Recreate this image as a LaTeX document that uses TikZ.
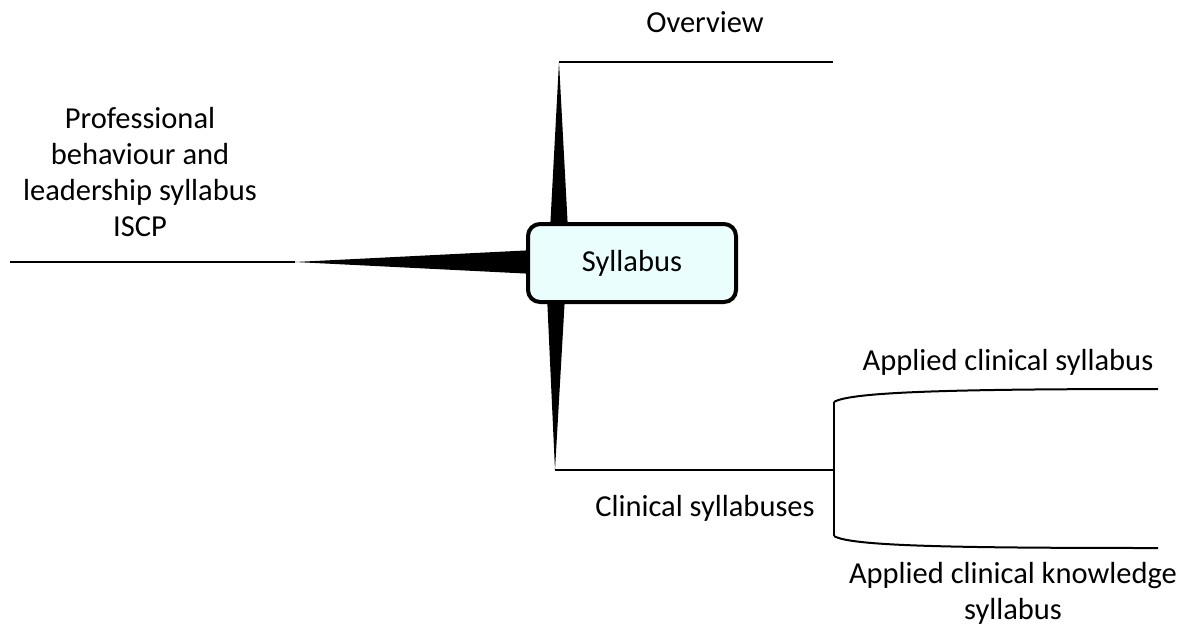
\documentclass[tikz,border=0pt]{standalone}
\usepackage{fontspec}
\setmainfont{Carlito}
\definecolor{boxfill}{RGB}{234,254,254}
\begin{document}
\begin{tikzpicture}[x=1pt,y=-1pt,
  lbl/.style={font=\fontsize{30.5}{36}\selectfont, align=center, inner sep=0pt},
  thin/.style={line width=2pt},
  spike/.style={fill=black, draw=none},
  central/.style={draw, line width=4pt, rounded corners=12pt, fill=boxfill,
    minimum width=208pt, minimum height=78pt, font=\fontsize{30.5}{36}\selectfont}]
\useasboundingbox (0,0) rectangle (1185,627);
% tips and ends
\coordinate (ttip) at (559,62);
\coordinate (tend) at (833,62);
\coordinate (ltip) at (295,262);
\coordinate (lend) at (10,262);
\coordinate (btip) at (555,470);
\coordinate (fork) at (834,470);
\coordinate (forkT) at (834,402);
\coordinate (forkB) at (834,536);
\coordinate (endA) at (1158,389);
\coordinate (endB) at (1158,548);
% spikes
\fill[spike] (550,230) -- (ttip) -- (568,230) -- cycle;
\fill[spike] (535,250) -- (ltip) -- (535,274) -- cycle;
\fill[spike] (547,296) -- (btip) -- (565,296) -- cycle;
% lines
\draw[thin] (ttip) -- (tend);
\draw[thin] (ltip) -- (lend);
\draw[thin] (btip) -- (fork);
\draw[thin] (forkT) -- (forkB);
\draw[thin] (forkT) .. controls (850,392) and (950,389) .. (endA);
\draw[thin] (forkB) .. controls (850,546) and (950,548) .. (endB);
% central node
\node[central] (syl) at (632,263) {Syllabus};
% labels
\node[lbl] (ov) at (705,22) {Overview};
\node[lbl] (pb) at (140,172) {Professional\\behaviour and\\leadership syllabus\\ISCP};
\node[lbl] (acs) at (1008,362) {Applied clinical syllabus};
\node[lbl] (cs) at (705,508) {Clinical syllabuses};
\node[lbl] (ack) at (1013,593) {Applied clinical knowledge\\syllabus};
\end{tikzpicture}
\end{document}
